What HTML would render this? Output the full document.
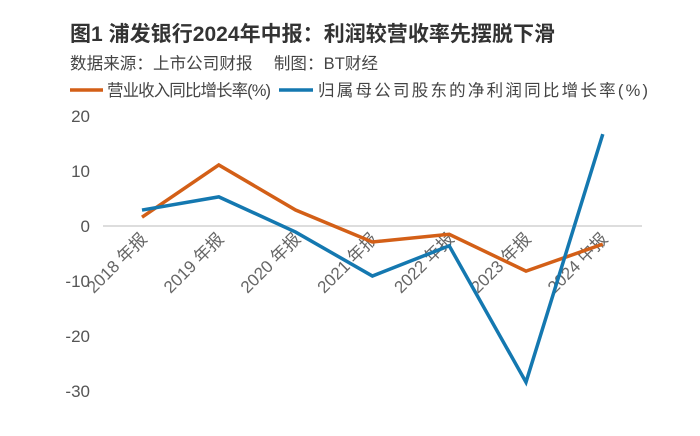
<!DOCTYPE html>
<html><head><meta charset="utf-8"><style>
body{margin:0;background:#fff;width:700px;height:431px;overflow:hidden;font-family:"Liberation Sans","Noto Sans CJK SC",sans-serif}
</style></head><body>
<svg width="700" height="431" xmlns="http://www.w3.org/2000/svg" style="font-family:'Liberation Sans','Noto Sans CJK SC',sans-serif">
<text x="70" y="41" font-size="21" font-weight="bold" fill="#333" textLength="485">图1 浦发银行2024年中报：利润较营收率先摆脱下滑</text>
<text x="70" y="69" font-size="16.5" fill="#444" textLength="308">数据来源：上市公司财报　 制图：BT财经</text>
<g>
<line x1="70" y1="90" x2="103" y2="90" stroke="#d35f17" stroke-width="3.5"/>
<text x="107" y="96" font-size="16.5" fill="#444" textLength="164">营业收入同比增长率(%)</text>
<line x1="279" y1="90" x2="313" y2="90" stroke="#1478b0" stroke-width="3.5"/>
<text x="318" y="96" font-size="16.5" fill="#444" textLength="330">归属母公司股东的净利润同比增长率(%)</text>
</g>
<g id="plot"></g>
</svg>
<script>
const categories=["2018 年报","2019 年报","2020 年报","2021 年报","2022 年报","2023 年报","2024 中报"];
const revenue=[1.6,11.1,2.9,-2.9,-1.5,-8.2,-3.3];
const profit=[2.9,5.3,-1.1,-9.1,-3.6,-28.4,16.7];
const yTicks=[20,10,0,-10,-20,-30];
const NS="http://www.w3.org/2000/svg";
const g=document.getElementById('plot');
function xs(i){return 142+i*76.8;}
function ys(v){return 226-v*5.5;}
function mk(t,a){const e=document.createElementNS(NS,t);for(const k in a)e.setAttribute(k,a[k]);g.appendChild(e);return e;}
const zl=mk('line',{x1:103,x2:642,y1:ys(0),y2:ys(0),stroke:'#ddd','stroke-width':2});


yTicks.forEach(v=>{const t=mk('text',{x:90,y:ys(v)+6,'font-size':17,fill:'#555','text-anchor':'end'});t.textContent=v;

});
categories.forEach((c,i)=>{const x=xs(i)+6,y=ys(0)+14;const t=mk('text',{x:x,y:y,'font-size':17,fill:'#666','text-anchor':'end',transform:`rotate(-45 ${x} ${y})`});t.textContent=c;

});
function line(d,col,name){const p=mk('polyline',{points:d.map((v,i)=>xs(i)+','+ys(v)).join(' '),fill:'none',stroke:col,'stroke-width':3.5,'stroke-linejoin':'miter'});

}
line(revenue,'#d35f17','revenue-growth-line');
line(profit,'#1478b0','profit-growth-line');
</script>
</body></html>
